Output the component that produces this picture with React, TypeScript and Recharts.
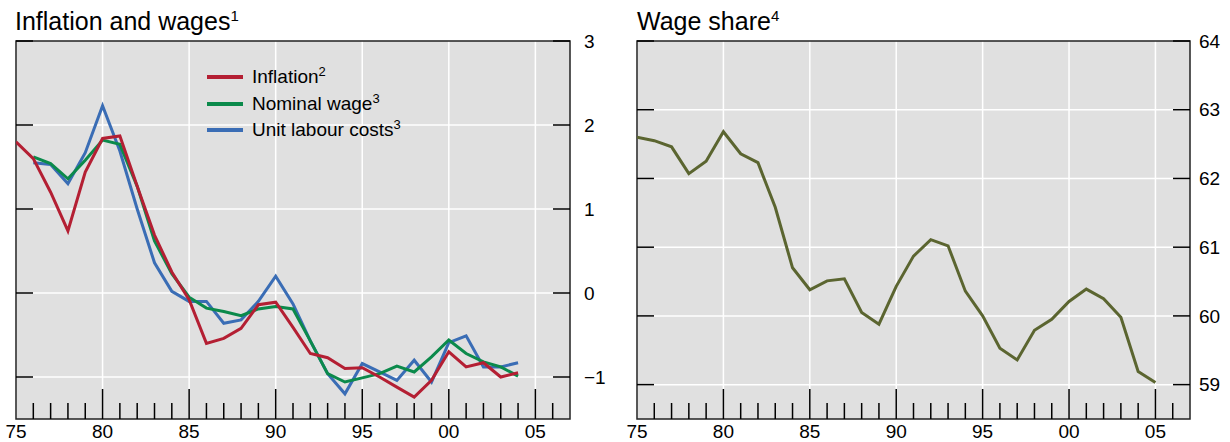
import React from 'react';
import {
  LineChart,
  Line,
  XAxis,
  YAxis,
  CartesianGrid,
  ReferenceArea,
  Legend,
} from 'recharts';

// Annual data
const years = [
  1975, 1976, 1977, 1978, 1979, 1980, 1981, 1982, 1983, 1984,
  1985, 1986, 1987, 1988, 1989, 1990, 1991, 1992, 1993, 1994,
  1995, 1996, 1997, 1998, 1999, 2000, 2001, 2002, 2003, 2004,
];

const inflation = [
  1.8, 1.6, 1.2, 0.74, 1.44, 1.84, 1.87, 1.27, 0.69, 0.25,
  -0.08, -0.6, -0.54, -0.42, -0.14, -0.11, -0.41, -0.72, -0.77, -0.9,
  -0.89, -1.0, -1.12, -1.24, -1.04, -0.7, -0.88, -0.83, -1.0, -0.95,
];

const nominalWage = [
  null, 1.62, 1.54, 1.36, 1.58, 1.82, 1.77, 1.27, 0.62, 0.23,
  -0.05, -0.18, -0.22, -0.27, -0.19, -0.16, -0.19, -0.57, -0.96, -1.06,
  -1.01, -0.96, -0.87, -0.94, -0.76, -0.56, -0.72, -0.82, -0.88, -0.99,
];

const unitLabourCosts = [
  null, 1.55, 1.53, 1.3, 1.67, 2.23, 1.69, 1.0, 0.36, 0.02,
  -0.1, -0.1, -0.36, -0.32, -0.1, 0.2, -0.13, -0.57, -0.96, -1.2,
  -0.84, -0.94, -1.04, -0.8, -1.06, -0.59, -0.51, -0.88, -0.88, -0.83,
];

const wageYears = [
  1975, 1976, 1977, 1978, 1979, 1980, 1981, 1982, 1983, 1984,
  1985, 1986, 1987, 1988, 1989, 1990, 1991, 1992, 1993, 1994,
  1995, 1996, 1997, 1998, 1999, 2000, 2001, 2002, 2003, 2004, 2005,
];

const wageShare = [
  62.6, 62.55, 62.46, 62.07, 62.25, 62.68, 62.36, 62.23, 61.58, 60.7,
  60.38, 60.51, 60.54, 60.05, 59.88, 60.43, 60.87, 61.11, 61.02, 60.36,
  60.0, 59.53, 59.36, 59.79, 59.95, 60.21, 60.39, 60.25, 59.98, 59.19, 59.03,
];

const yearTicks = [
  1975, 1976, 1977, 1978, 1979, 1980, 1981, 1982, 1983, 1984, 1985,
  1986, 1987, 1988, 1989, 1990, 1991, 1992, 1993, 1994, 1995, 1996,
  1997, 1998, 1999, 2000, 2001, 2002, 2003, 2004, 2005, 2006,
];
const majorYears = [1975, 1980, 1985, 1990, 1995, 2000, 2005];

const leftTicks = [-1, 0, 1, 2, 3];
const rightTicks = [59, 60, 61, 62, 63, 64];

const legendItems = [
  { name: 'Inflation', note: '2', color: '#b41f33' },
  { name: 'Nominal wage', note: '3', color: '#0b8a4b' },
  { name: 'Unit labour costs', note: '3', color: '#3a6db5' },
];

const FONT = '"Liberation Sans", Arial, Helvetica, sans-serif';

const leftData = years.map((y, i) => ({
  year: y,
  inflation: inflation[i],
  wage: nominalWage[i],
  ulc: unitLabourCosts[i],
}));

const rightData = wageYears.map((y, i) => ({ year: y, share: wageShare[i] }));

function fmt(v: number) {
  return v < 0 ? '\u2212' + Math.abs(v) : String(v);
}

function XTick(props: any) {
  const { x, y, payload } = props;
  const yr = payload.value as number;
  const major = yr % 5 === 0;
  return (
    <g>
      {yr !== 1975 && (
        <line x1={x} x2={x} y1={y} y2={y - (major ? 30 : 16)} stroke="#000" strokeWidth={1.5} />
      )}
      {major && (
        <text x={x} y={y + 19} textAnchor="middle" fontSize={19} fontFamily={FONT} fill="#000">
          {String(yr).slice(2)}
        </text>
      )}
    </g>
  );
}

function makeYTick(plotWidth: number, gap: number) {
  return function YTick(props: any) {
    const { x, y, payload } = props;
    return (
      <g>
        <line x1={x - 17} x2={x} y1={y} y2={y} stroke="#000" strokeWidth={1.5} />
        <line x1={x - plotWidth} x2={x - plotWidth + 17} y1={y} y2={y} stroke="#000" strokeWidth={1.5} />
        <text x={x + gap} y={y} dy="0.35em" textAnchor="start" fontSize={19} fontFamily={FONT} fill="#000">
          {fmt(payload.value)}
        </text>
      </g>
    );
  };
}

const LeftYTick = makeYTick(554, 14);
const RightYTick = makeYTick(553, 9);

function LegendBox() {
  return (
    <div style={styles.legend}>
      {legendItems.map((it) => (
        <div key={it.name} style={styles.legendRow}>
          <span style={{ ...styles.swatch, backgroundColor: it.color }} />
          <span>
            {it.name}
            <sup style={styles.sup}>{it.note}</sup>
          </span>
        </div>
      ))}
    </div>
  );
}

export default function App() {
  return (
    <div style={styles.page}>
      <div style={{ ...styles.title, left: 15 }}>
        Inflation and wages<sup style={styles.titleSup}>1</sup>
      </div>
      <div style={{ ...styles.title, left: 637 }}>
        Wage share<sup style={styles.titleSup}>4</sup>
      </div>

      <div style={{ position: 'absolute', left: 0, top: 0 }}>
        <LineChart
          width={620}
          height={442}
          data={leftData}
          margin={{ top: 41, right: 0, left: 16, bottom: 0 }}
        >
          <CartesianGrid
            fill="#e0e0e0"
            stroke="#ffffff"
            strokeWidth={1.5}
            verticalValues={majorYears}
            horizontalValues={[-1, 0, 1, 2]}
          />
          <XAxis
            dataKey="year"
            type="number"
            domain={[1975, 2007]}
            ticks={yearTicks}
            interval={0}
            tick={<XTick />}
            tickSize={0}
            tickMargin={0}
            axisLine={false}
            height={23}
            allowDataOverflow
          />
          <YAxis
            orientation="right"
            type="number"
            domain={[-1.5, 3]}
            ticks={leftTicks}
            interval={0}
            tick={<LeftYTick />}
            tickSize={0}
            tickMargin={0}
            axisLine={false}
            width={50}
            allowDataOverflow
          />
          <Legend
            layout="vertical"
            align="center"
            verticalAlign="middle"
            content={<LegendBox />}
            wrapperStyle={{ position: 'absolute', top: 64, left: 207, width: 'auto', height: 'auto' }}
          />
          <Line dataKey="ulc" stroke="#3a6db5" strokeWidth={3} dot={false} isAnimationActive={false} connectNulls={false} />
          <Line dataKey="wage" stroke="#0b8a4b" strokeWidth={3} dot={false} isAnimationActive={false} connectNulls={false} />
          <Line dataKey="inflation" stroke="#b41f33" strokeWidth={3} dot={false} isAnimationActive={false} />
          <ReferenceArea
            x1={1975}
            x2={2007}
            y1={-1.5}
            y2={3}
            fill="none"
            stroke="#222"
            strokeWidth={1.5}
            ifOverflow="visible"
          />
        </LineChart>
      </div>

      <div style={{ position: 'absolute', left: 620, top: 0 }}>
        <LineChart
          width={610}
          height={442}
          data={rightData}
          margin={{ top: 41, right: 0, left: 17, bottom: 0 }}
        >
          <CartesianGrid
            fill="#e0e0e0"
            stroke="#ffffff"
            strokeWidth={1.5}
            verticalValues={majorYears}
            horizontalValues={[59, 60, 61, 62, 63]}
          />
          <XAxis
            dataKey="year"
            type="number"
            domain={[1975, 2007]}
            ticks={yearTicks}
            interval={0}
            tick={<XTick />}
            tickSize={0}
            tickMargin={0}
            axisLine={false}
            height={23}
            allowDataOverflow
          />
          <YAxis
            orientation="right"
            type="number"
            domain={[58.5, 64]}
            ticks={rightTicks}
            interval={0}
            tick={<RightYTick />}
            tickSize={0}
            tickMargin={0}
            axisLine={false}
            width={40}
            allowDataOverflow
          />
          <Line dataKey="share" stroke="#5b6530" strokeWidth={3} dot={false} isAnimationActive={false} />
          <ReferenceArea
            x1={1975}
            x2={2007}
            y1={58.5}
            y2={64}
            fill="none"
            stroke="#222"
            strokeWidth={1.5}
            ifOverflow="visible"
          />
        </LineChart>
      </div>
    </div>
  );
}

const styles: Record<string, React.CSSProperties> = {
  page: {
    position: 'absolute',
    left: 0,
    top: 0,
    width: 1230,
    height: 442,
    backgroundColor: '#ffffff',
    fontFamily: FONT,
    overflow: 'hidden',
  },

  title: {
    position: 'absolute',
    top: 9,
    fontSize: 25,
    lineHeight: '25px',
    color: '#000',
    whiteSpace: 'nowrap',
  },

  titleSup: {
    fontSize: 15,
    lineHeight: 0,
    verticalAlign: 'super',
  },

  legend: {
    fontFamily: FONT,
    fontSize: 19,
    color: '#000',
  },

  legendRow: {
    display: 'flex',
    alignItems: 'center',
    height: 26.5,
    whiteSpace: 'nowrap',
  },

  swatch: {
    display: 'inline-block',
    width: 36,
    height: 4,
    marginRight: 9,
  },

  sup: {
    fontSize: 13,
    lineHeight: 0,
    verticalAlign: 'super',
  },
};
